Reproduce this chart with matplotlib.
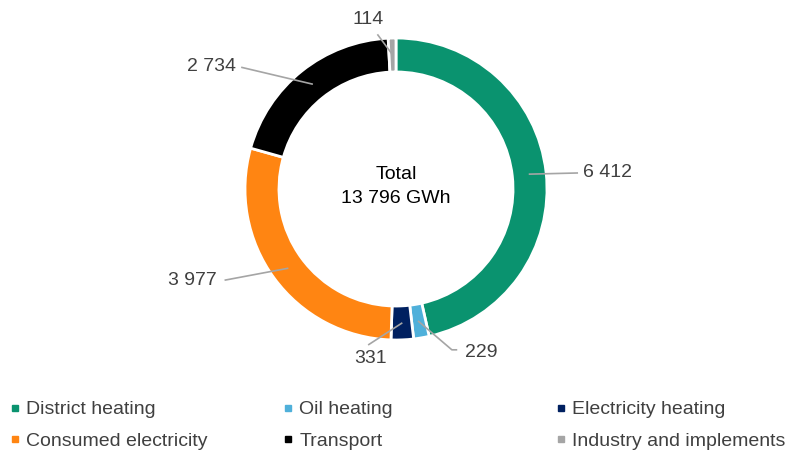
import numpy as np
import matplotlib.pyplot as plt

plt.rcParams['font.family'] = ['Liberation Sans', 'DejaVu Sans']

# data
categories = ["District heating", "Oil heating", "Electricity heating",
              "Consumed electricity", "Transport", "Industry and implements"]
values = [6412, 229, 331, 3977, 2734, 114]
value_labels = ["6 412", "229", "331", "3 977", "2 734", "114"]
colors = ["#0a936f", "#4fb0da", "#002060", "#ff8512", "#000000", "#a5a5a5"]

fig = plt.figure(figsize=(7.91, 4.51), dpi=100)
ax = fig.add_axes([245 / 791, 1 - 340 / 451, 302 / 791, 302 / 451])
wedges, _ = ax.pie(values, colors=colors, startangle=90, counterclock=False,
                   radius=1, wedgeprops=dict(width=0.225, edgecolor="white", linewidth=2))
ax.set_xlim(-1, 1)
ax.set_ylim(-1, 1)
ax.set_aspect("equal")
ax.axis("off")

ax.text(0, 0.095, "Total", ha="center", va="center", fontsize=14, color="#000000")
ax.text(0, -0.06, "13 796 GWh", ha="center", va="center", fontsize=14, color="#000000")

# label placement: line end (with optional elbow) and text anchor
label_pos = {
    0: dict(end=(1.20, 0.106), txt=(1.24, 0.106), ha="left"),
    1: dict(end=(0.40, -1.065), elbow=(0.37, -1.065), txt=(0.46, -1.08), ha="left"),
    2: dict(end=(-0.18, -1.03), txt=(-0.17, -1.12), ha="center"),
    3: dict(end=(-1.13, -0.603), txt=(-1.19, -0.603), ha="right"),
    4: dict(end=(-1.02, 0.805), txt=(-1.06, 0.81), ha="right"),
    5: dict(end=(-0.12, 1.02), txt=(-0.185, 1.12), ha="center"),
}

total = sum(values)
cum = 0
for i, v in enumerate(values):
    mid = 90 - 360 * (cum + v / 2) / total
    cum += v
    r = 0.89
    sx, sy = r * np.cos(np.radians(mid)), r * np.sin(np.radians(mid))
    p = label_pos[i]
    if "elbow" in p:
        xs = [sx, p["elbow"][0], p["end"][0]]
        ys = [sy, p["elbow"][1], p["end"][1]]
    else:
        xs = [sx, p["end"][0]]
        ys = [sy, p["end"][1]]
    ax.plot(xs, ys, color="#a5a5a5", lw=1.2, clip_on=False, zorder=3)
    ax.text(p["txt"][0], p["txt"][1], value_labels[i], ha=p["ha"], va="center",
            fontsize=14, color="#404040")

# legend: three columns, row-major order like the reference
col_x = [2 / 791, 275 / 791, 548 / 791]
for c in range(3):
    idx = [c, c + 3]
    handles = [plt.Line2D([], [], marker="s", ls="", color=colors[i], markersize=5)
               for i in idx]
    fig.legend(handles, [categories[i] for i in idx], loc="upper left",
               bbox_to_anchor=(col_x[c], 1 - 393 / 451), frameon=False,
               fontsize=14, handlelength=0.5, handletextpad=0.35,
               labelspacing=0.7, labelcolor="#404040", borderaxespad=0)

fig.savefig("out.png", dpi=100)
